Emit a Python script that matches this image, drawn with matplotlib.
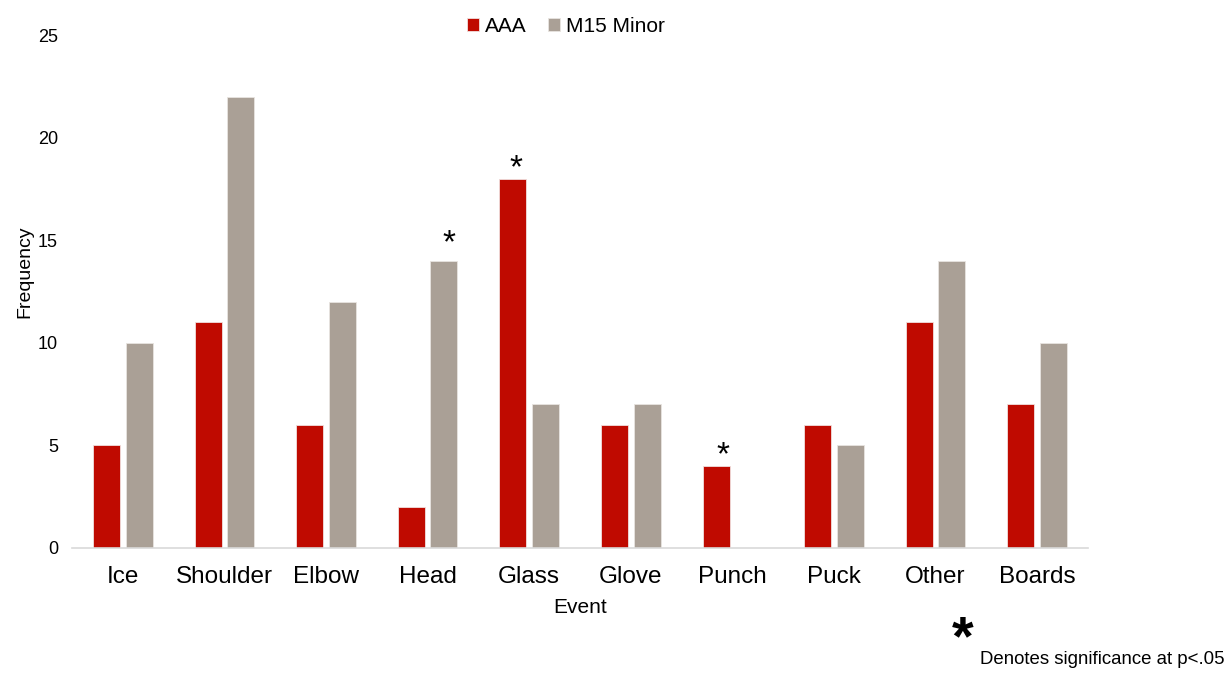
import matplotlib.pyplot as plt
import numpy as np

categories = ["Ice", "Shoulder", "Elbow", "Head", "Glass", "Glove", "Punch", "Puck", "Other", "Boards"]
aaa = [5, 11, 6, 2, 18, 6, 4, 6, 11, 7]
m15 = [10, 22, 12, 14, 7, 7, 0, 5, 14, 10]
# significance markers: (category index, series)
sig = [(3, "m15"), (4, "aaa"), (6, "aaa")]
yticks = [0, 5, 10, 15, 20, 25]

# marker nudges (points) as placed in the original
sig_dx = [5, 3, 7]
sig_dy = [5, 0, 0]

plt.rcParams['font.family'] = ['Liberation Sans', 'DejaVu Sans']

fig = plt.figure(figsize=(12.28, 6.73), dpi=100)
ax = fig.add_axes([72/1228, 1 - 548/673, (1088-72)/1228, (548-35)/673])

x = np.arange(len(categories))
w = 0.265
off = 0.16
red = "#BF0A00"
grey = "#AAA096"
ax.bar(x - off, aaa, w, color=red, edgecolor="#F0E0DE", linewidth=0.6, label="AAA")
ax.bar(x + off, m15, w, color=grey, edgecolor="#E8E4E0", linewidth=0.6, label="M15 Minor")

ax.set_xlim(-0.5, len(categories) - 0.5)
ax.set_ylim(0, 25)
ax.set_yticks(yticks)
ax.set_xticks(x)
ax.set_xticklabels(categories, fontsize=17.5)
ax.tick_params(axis='y', labelsize=13, length=0, pad=10)
ax.tick_params(axis='x', length=0, pad=13)
for s in ["top", "right", "left"]:
    ax.spines[s].set_visible(False)
ax.spines["bottom"].set_color("#D9D9D9")
ax.spines["bottom"].set_linewidth(1.2)

ax.set_xlabel("Event", fontsize=15)
ax.xaxis.set_label_coords(0.5, -0.098)
ax.set_ylabel("Frequency", fontsize=14)
ax.yaxis.set_label_coords(-0.038, 0.538)

for (i, s), dx, dy in zip(sig, sig_dx, sig_dy):
    if s == "aaa":
        xx, yy = x[i] - off, aaa[i]
    else:
        xx, yy = x[i] + off, m15[i]
    ax.annotate("*", (xx, yy), xytext=(dx * 0.72, 1.2 + dy), textcoords="offset points",
                ha="center", va="baseline", fontsize=24)

fig.legend(loc="upper center", bbox_to_anchor=(0.461, 1.003), ncol=2, frameon=False,
           fontsize=15, handlelength=0.58, handleheight=0.58, handletextpad=0.3,
           columnspacing=1.0)

fig.text(963/1228, 1 - 640/673, "*", fontsize=40, fontweight="bold", ha="center", va="center")
fig.text(980/1228, 1 - 660/673, "Denotes significance at p<.05", fontsize=13.4, ha="left", va="center")

fig.savefig("out.png", dpi=100)
